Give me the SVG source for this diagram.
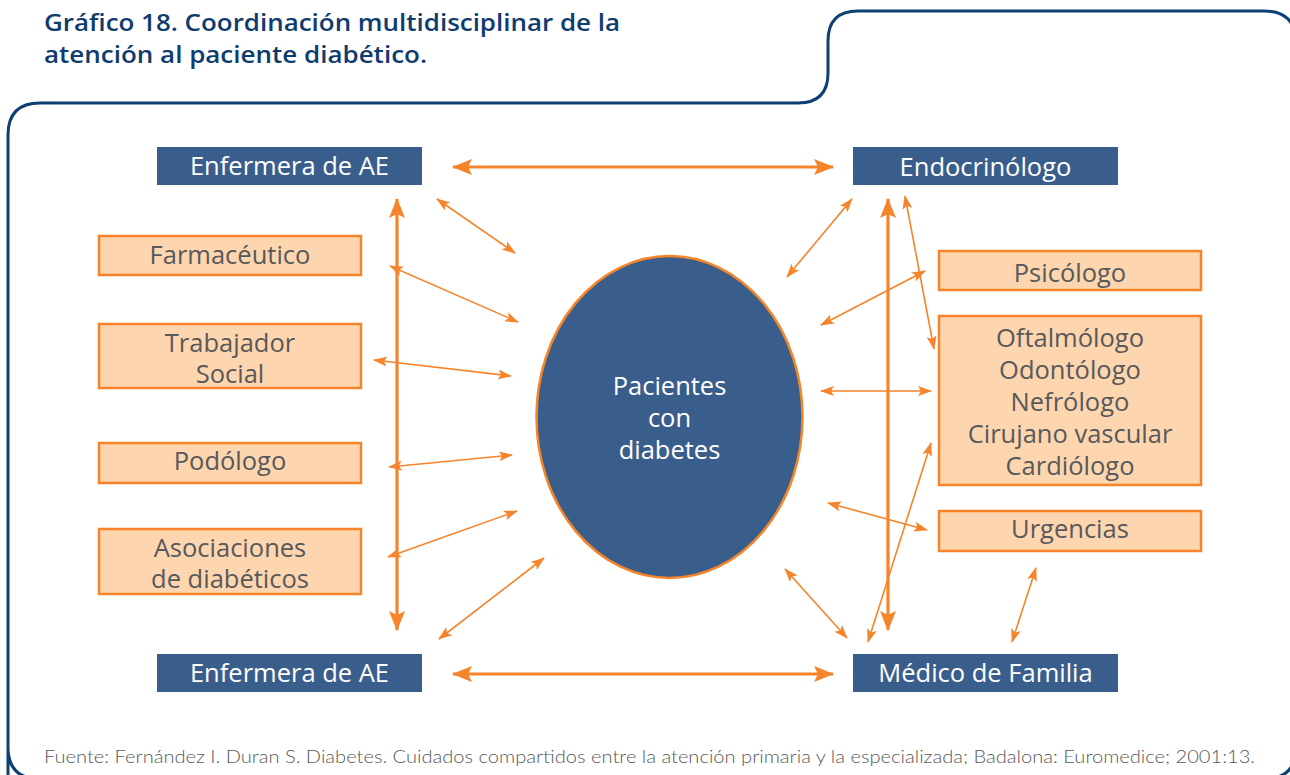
<svg xmlns="http://www.w3.org/2000/svg" width="1290" height="775" viewBox="0 0 1290 775">
<defs>
<style>
.title{font-family:"Open Sans","Liberation Sans",sans-serif;font-weight:600;font-size:23.5px;fill:#0f3c6e}
.bt{font-family:"Open Sans","Liberation Sans",sans-serif;font-size:25.5px;fill:#ffffff;text-anchor:middle}
.ot{font-family:"Open Sans","Liberation Sans",sans-serif;font-size:25.5px;fill:#58595b;text-anchor:middle}
.blue{fill:#3a5e8c}
.orange{fill:#fdd5ae;stroke:#f5842a;stroke-width:2.5}
.thin{stroke:#f5842a;stroke-width:1.6;fill:none;marker-start:url(#ah);marker-end:url(#ah)}
.thick{stroke:#f5842a;stroke-width:3.2;fill:none;marker-start:url(#AH);marker-end:url(#AH)}
.foot{font-family:"Lato","Liberation Sans",sans-serif;font-size:17px;fill:#58595b;font-weight:300}
</style>
<marker id="ah" viewBox="0 0 14 10" refX="13" refY="5" markerWidth="14" markerHeight="10" markerUnits="userSpaceOnUse" orient="auto-start-reverse">
<path d="M0,0 L14,5 L0,10 L3,5 z" fill="#f5842a"/>
</marker>
<marker id="AH" viewBox="0 0 20 16" refX="19" refY="8" markerWidth="20" markerHeight="16" markerUnits="userSpaceOnUse" orient="auto-start-reverse">
<path d="M0,0 L20,8 L0,16 L4,8 z" fill="#f5842a"/>
</marker>
</defs>
<rect width="1290" height="775" fill="#ffffff"/>
<path d="M8,800 L8,135 Q8,103 40,103 L798,103 Q828,103 828,73 L828,41 Q828,11 858,11 L1264,11 Q1296,11 1296,43 L1296,747 Q1296,779 1264,779 L40,779 Q8,779 8,747" fill="none" stroke="#0d3f73" stroke-width="3"/>
<g id="title">
<text class="title" x="44" y="31" textLength="576" lengthAdjust="spacingAndGlyphs">Gráfico 18. Coordinación multidisciplinar de la</text>
<text class="title" x="44" y="63" textLength="383" lengthAdjust="spacingAndGlyphs">atención al paciente diabético.</text>
</g>
<g id="connectors">
<line class="thick" x1="453" y1="167" x2="833" y2="167"/>
<line class="thick" x1="453" y1="674" x2="833" y2="674"/>
<line class="thick" x1="397" y1="199" x2="397" y2="630"/>
<line class="thick" x1="888" y1="199" x2="888" y2="630"/>
<line class="thin" x1="437" y1="199" x2="515" y2="253"/>
<line class="thin" x1="390" y1="266" x2="518" y2="322"/>
<line class="thin" x1="374" y1="360" x2="511" y2="376"/>
<line class="thin" x1="389" y1="467" x2="512" y2="455"/>
<line class="thin" x1="388" y1="557" x2="517" y2="511"/>
<line class="thin" x1="439" y1="639" x2="544" y2="558"/>
<line class="thin" x1="852" y1="199" x2="787" y2="277"/>
<line class="thin" x1="925" y1="271" x2="821" y2="325"/>
<line class="thin" x1="905" y1="196" x2="934" y2="349"/>
<line class="thin" x1="821" y1="391" x2="931" y2="391"/>
<line class="thin" x1="868" y1="642" x2="931" y2="443"/>
<line class="thin" x1="828" y1="503" x2="927" y2="530"/>
<line class="thin" x1="785" y1="569" x2="847" y2="638"/>
<line class="thin" x1="1036" y1="568" x2="1012" y2="642"/>
</g>
<g id="n-enf-top">
<rect class="blue" x="157" y="147" width="265" height="38"/>
<text class="bt" x="289.5" y="175">Enfermera de AE</text>
</g>
<g id="n-endo">
<rect class="blue" x="853" y="147" width="265" height="38"/>
<text class="bt" x="985.5" y="176">Endocrinólogo</text>
</g>
<g id="n-enf-bot">
<rect class="blue" x="157" y="654" width="265" height="38"/>
<text class="bt" x="289.5" y="682">Enfermera de AE</text>
</g>
<g id="n-medico">
<rect class="blue" x="853" y="654" width="265" height="38"/>
<text class="bt" x="985.5" y="682">Médico de Familia</text>
</g>
<g id="n-farm">
<rect class="orange" x="99" y="236" width="262" height="39"/>
<text class="ot" x="230" y="264">Farmacéutico</text>
</g>
<g id="n-trab">
<rect class="orange" x="99" y="324" width="262" height="64"/>
<text class="ot" x="230" y="352">Trabajador</text>
<text class="ot" x="230" y="383">Social</text>
</g>
<g id="n-podo">
<rect class="orange" x="99" y="443" width="262" height="40"/>
<text class="ot" x="230" y="470">Podólogo</text>
</g>
<g id="n-asoc">
<rect class="orange" x="99" y="529" width="262" height="65"/>
<text class="ot" x="230" y="557">Asociaciones</text>
<text class="ot" x="230" y="588">de diabéticos</text>
</g>
<g id="n-psico">
<rect class="orange" x="939" y="251" width="262" height="39"/>
<text class="ot" x="1070" y="282">Psicólogo</text>
</g>
<g id="n-espec">
<rect class="orange" x="939" y="316" width="262" height="169"/>
<text class="ot" x="1070" y="347">Oftalmólogo</text>
<text class="ot" x="1070" y="379">Odontólogo</text>
<text class="ot" x="1070" y="411">Nefrólogo</text>
<text class="ot" x="1070" y="443">Cirujano vascular</text>
<text class="ot" x="1070" y="475">Cardiólogo</text>
</g>
<g id="n-urg">
<rect class="orange" x="939" y="511" width="262" height="40"/>
<text class="ot" x="1070" y="538">Urgencias</text>
</g>
<g id="n-pac">
<ellipse cx="669.5" cy="417" rx="133" ry="161" fill="#3a5e8c" stroke="#f5842a" stroke-width="2.5"/>
<text class="bt" x="669.5" y="395">Pacientes</text>
<text class="bt" x="669.5" y="427">con</text>
<text class="bt" x="669.5" y="459">diabetes</text>
</g>
<text class="foot" x="44" y="763" textLength="1211" lengthAdjust="spacingAndGlyphs">Fuente: Fernández I. Duran S. Diabetes. Cuidados compartidos entre la atención primaria y la especializada; Badalona: Euromedice; 2001:13.</text>
</svg>
